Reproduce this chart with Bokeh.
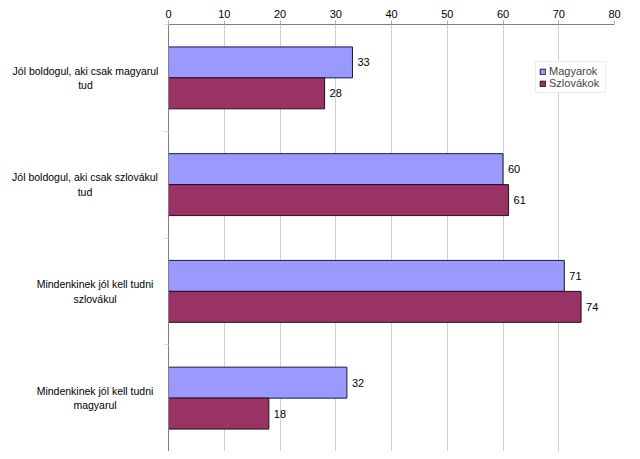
from bokeh.plotting import figure
from bokeh.layouts import row
from bokeh.models import FixedTicker, ColumnDataSource, Legend, LegendItem, Range1d
from bokeh.core.properties import value
from bokeh.embed import file_html
from bokeh.resources import INLINE

categories = ["Jól boldogul, aki csak magyarul\ntud",
              "Jól boldogul, aki csak szlovákul\ntud",
              "Mindenkinek jól kell tudni\nszlovákul",
              "Mindenkinek jól kell tudni\nmagyarul"]
magyarok = [33, 60, 71, 32]
szlovakok = [28, 61, 74, 18]
series_names = ["Magyarok", "Szlovákok"]
x_ticks = [0, 10, 20, 30, 40, 50, 60, 70, 80]

FONT = "Liberation Sans"
n = len(categories)
centers = [n - i - 0.5 for i in range(n)]
off = 0.145
hgt = 0.29
H = 451
TOP = 24
LW = 160
# horizontal centres of the (right-aligned) label blocks, in px of the left panel
label_cx = [85, 84.5, 94.5, 94.5]

yr = Range1d(0, n)

lf = figure(width=LW, height=H, output_backend="svg", toolbar_location=None,
            x_range=Range1d(0, LW), y_range=yr, x_axis_location=None, y_axis_location=None,
            min_border_left=0, min_border_right=0, min_border_top=TOP, min_border_bottom=0)
lf.outline_line_color = None
lf.xgrid.visible = False
lf.ygrid.visible = False
lsrc = ColumnDataSource(dict(x=label_cx, y=centers, t=categories))
lf.text(x="x", y="y", text="t", source=lsrc, text_align="center", text_baseline="middle",
        text_font=value(FONT), text_font_size="10.5px", text_color="#000000", text_line_height=1.2)

p = figure(width=624 - LW, height=H, output_backend="svg", toolbar_location=None,
           x_axis_location="above", x_range=Range1d(0, 80), y_range=yr,
           min_border_left=8, min_border_right=10, min_border_top=TOP, min_border_bottom=0)
p.outline_line_color = None

src_m = ColumnDataSource(dict(y=[c + off for c in centers], x=magyarok, lab=[str(v) for v in magyarok]))
src_s = ColumnDataSource(dict(y=[c - off for c in centers], x=szlovakok, lab=[str(v) for v in szlovakok]))

r1 = p.hbar(y="y", right="x", left=0, height=hgt, source=src_m, fill_color="#9999FF", line_color="#1a1a40", line_width=1)
r2 = p.hbar(y="y", right="x", left=0, height=hgt, source=src_s, fill_color="#993366", line_color="#2a0a1a", line_width=1)

for src in (src_m, src_s):
    p.text(x="x", y="y", text="lab", source=src, x_offset=5, text_baseline="middle", text_align="left",
           text_font=value(FONT), text_font_size="11px", text_color="#000000")

xa = p.xaxis[0]
xa.ticker = FixedTicker(ticks=x_ticks)
xa.axis_line_color = "#808080"
xa.major_tick_line_color = "#b0b0b0"
xa.major_tick_out = 4
xa.major_tick_in = 0
xa.minor_tick_line_color = None
xa.major_label_text_font = FONT
xa.major_label_text_font_size = "11px"
xa.major_label_text_color = "#000000"
xa.major_label_standoff = 3

ya = p.yaxis[0]
ya.ticker = FixedTicker(ticks=centers, minor_ticks=[0, 1, 2, 3, 4])
ya.major_label_overrides = {c: "" for c in centers}
ya.major_label_standoff = 0
ya.major_tick_line_color = None
ya.major_tick_out = 0
ya.minor_tick_out = 4
ya.minor_tick_in = 0
ya.minor_tick_line_color = "#d8d8d8"
ya.axis_line_color = "#808080"

p.ygrid.grid_line_color = None
p.xgrid.grid_line_color = "#d0d0d0"
p.xgrid.ticker = FixedTicker(ticks=x_ticks)

legend = Legend(items=[LegendItem(label=series_names[0], renderers=[r1]),
                       LegendItem(label=series_names[1], renderers=[r2])],
                location=(367, H - 93))
legend.label_text_font = FONT
legend.label_text_font_size = "11px"
legend.glyph_width = 7
legend.glyph_height = 7
legend.label_height = 11
legend.label_width = 53
legend.label_standoff = 3
legend.spacing = 0
legend.padding = 3
legend.margin = 0
legend.border_line_color = "#d9d9d9"
legend.background_fill_alpha = 1
p.add_layout(legend)

layout = row(lf, p)
open("out.html", "w").write(file_html(layout, INLINE))
